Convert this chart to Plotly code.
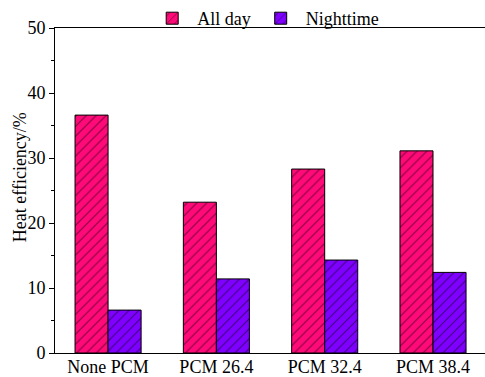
import plotly.graph_objects as go

categories = ["None PCM", "PCM 26.4", "PCM 32.4", "PCM 38.4"]
all_day = [36.6, 23.2, 28.3, 31.1]
nighttime = [6.6, 11.4, 14.3, 12.4]

series_names = ["All day", "Nighttime"]
series_colors = ["#FF0A78", "#7F00FF"]

font_family = "'Liberation Serif', 'Times New Roman', serif"

fig = go.Figure()
for name, vals, col in zip(series_names, [all_day, nighttime], series_colors):
    fig.add_trace(go.Bar(
        x=categories, y=vals, name=name,
        marker=dict(
            color=col,
            line=dict(color="black", width=1),
            pattern=dict(shape="/", fgcolor="black", bgcolor=col,
                         size=7, solidity=0.15, fillmode="overlay"),
        ),
    ))

fig.update_layout(
    width=485, height=377,
    margin=dict(l=55, r=0, t=28, b=24, autoexpand=False),
    barmode="group", bargap=0.39, bargroupgap=0,
    plot_bgcolor="white", paper_bgcolor="white",
    font=dict(family=font_family, size=18, color="black"),
    showlegend=True,
    legend=dict(orientation="h", x=0.49, xanchor="center",
                yref="container", y=1.0, yanchor="top",
                font=dict(size=18), itemwidth=40, bgcolor="rgba(0,0,0,0)",
                tracegroupgap=0),
    xaxis=dict(
        range=[-0.49, 3.48], showline=True, linecolor="black", linewidth=1,
        mirror=True, ticks="", showgrid=False, zeroline=False,
        tickfont=dict(size=18), ticklabelstandoff=-3,
    ),
    yaxis=dict(
        range=[0, 50], dtick=10, showline=True, linecolor="black", linewidth=1,
        ticks="outside", ticklen=5, tickwidth=1, tickcolor="black",
        minor=dict(dtick=5, ticks="outside", ticklen=3, tickcolor="black"),
        showgrid=False, zeroline=False, tickfont=dict(size=18),
    ),
    annotations=[dict(
        text="Heat efficiency/%", textangle=-90, showarrow=False,
        xref="paper", yref="paper", x=-0.082, y=0.54,
        xanchor="center", yanchor="middle", font=dict(size=18),
    )],
)

fig.write_html("out.html")
